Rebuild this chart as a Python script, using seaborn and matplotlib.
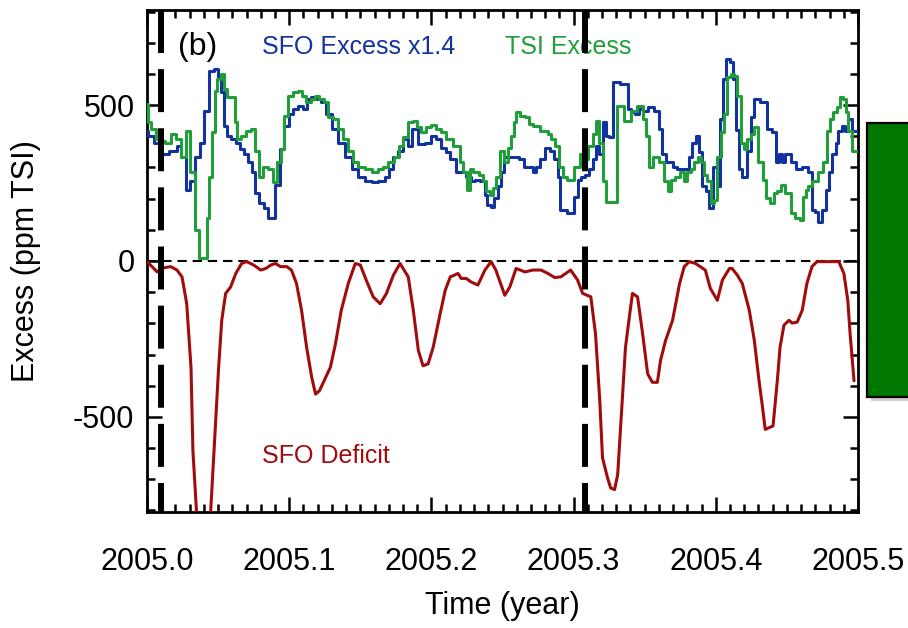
import numpy as np
import pandas as pd
import matplotlib
matplotlib.use("Agg")
import matplotlib.pyplot as plt
import seaborn as sns
from matplotlib.patches import Rectangle
from matplotlib.ticker import MultipleLocator, FixedLocator

# ---------------- data (time in days since 2005.0) ----------------
sfo_days = [0.0, 0.5, 3.1, 3.8, 7.4, 8.2, 9.5, 10.5, 11.5, 13.3,
            14.1, 15.4, 16.6, 17.7, 18.7, 19.2, 20.2, 21.0, 22.3, 23.6,
            24.3, 25.4, 26.4, 27.4, 28.2, 29.5, 30.5, 31.8, 33.8, 34.6,
            35.9, 36.9, 38.2, 39.4, 40.7, 41.5, 42.8, 44.0, 45.3, 46.6,
            48.4, 49.9, 51.7, 53.5, 55.1, 56.9, 58.6, 60.2, 62.0, 62.5,
            63.8, 65.0, 66.3, 67.6, 68.6, 70.4, 72.2, 73.5, 74.8, 76.1,
            77.3, 78.6, 79.9, 81.2, 82.5, 83.7, 85.0, 86.3, 87.1, 87.8,
            88.9, 89.6, 90.7, 91.4, 92.2, 94.5, 96.5, 97.3, 98.6, 99.6,
            100.4, 101.7, 103.0, 104.2, 105.0, 106.0, 106.3, 109.4, 110.1, 111.1,
            111.9, 113.2, 114.0, 115.0, 115.8, 116.5, 117.5, 118.3, 119.1, 120.1,
            122.9, 124.0, 124.7, 126.0, 126.8, 128.1, 129.1, 131.1, 131.9, 132.9,
            133.7, 134.5, 135.5, 136.8, 138.8, 139.6, 140.6, 141.4, 142.1, 143.2,
            143.9, 144.7, 146.2, 147.0, 147.5, 148.3, 149.3, 150.3, 150.8, 151.6,
            152.4, 153.4, 154.7, 155.5, 156.2, 158.8, 159.8, 161.1, 161.9, 162.6,
            163.6, 164.4, 166.2, 167.0, 169.5, 170.3, 171.3, 172.1, 172.6, 174.1,
            174.7, 175.4, 176.5, 177.2, 178.0, 179.0, 179.8, 180.5, 181.6, 182.6]
sfo_excess = [416, 400, 380, 342, 352, 368, 332, 229, 256, 332,
              380, 481, 610, 616, 590, 542, 432, 400, 390, 380,
              358, 342, 316, 284, 219, 187, 171, 139, 245, 358,
              432, 471, 487, 497, 487, 519, 526, 519, 510, 471,
              423, 380, 335, 294, 268, 255, 252, 255, 271, 294,
              332, 352, 390, 368, 423, 374, 380, 400, 390, 364,
              348, 326, 287, 284, 268, 255, 261, 255, 213, 181,
              174, 203, 239, 287, 335, 332, 326, 303, 300, 284,
              300, 326, 364, 352, 326, 271, 165, 155, 206, 261,
              271, 277, 294, 326, 368, 342, 445, 400, 397, 574,
              568, 487, 477, 471, 487, 481, 493, 481, 423, 342,
              319, 316, 303, 294, 294, 332, 380, 400, 348, 239,
              223, 171, 300, 239, 455, 584, 648, 639, 584, 420,
              294, 268, 352, 461, 519, 510, 423, 413, 316, 342,
              316, 342, 316, 294, 300, 284, 165, 158, 126, 165,
              229, 284, 342, 380, 416, 432, 416, 455, 416, 416]

tsi_days = [0.0, 0.5, 1.8, 2.6, 3.8, 5.6, 6.9, 8.2, 9.5, 10.5,
            11.5, 13.1, 13.8, 15.1, 15.6, 16.4, 17.2, 17.7, 18.4, 19.5,
            20.2, 21.0, 22.3, 22.8, 23.6, 24.8, 26.1, 27.4, 28.2, 29.2,
            30.5, 31.8, 33.0, 33.8, 34.8, 35.6, 36.9, 38.2, 39.4, 40.2,
            41.5, 42.8, 43.5, 44.8, 46.1, 47.1, 48.4, 49.7, 51.0, 52.2,
            53.5, 55.1, 56.9, 58.6, 59.9, 61.2, 62.7, 64.0, 65.3, 66.3,
            67.6, 68.9, 69.7, 70.9, 72.2, 73.5, 74.8, 76.1, 77.3, 79.9,
            80.7, 81.7, 82.5, 83.2, 84.5, 85.8, 86.8, 87.6, 88.4, 89.4,
            90.1, 91.2, 92.2, 93.2, 94.0, 94.5, 95.3, 96.5, 97.6, 98.6,
            99.6, 102.4, 103.5, 104.2, 105.5, 106.3, 107.3, 108.6, 110.6, 111.7,
            112.7, 114.0, 115.0, 115.8, 116.5, 117.5, 118.3, 120.2, 121.1, 124.0,
            124.7, 126.8, 127.8, 128.6, 129.3, 130.4, 132.4, 133.2, 134.2, 135.0,
            136.2, 137.5, 138.3, 139.3, 140.1, 140.9, 141.9, 142.6, 143.4, 144.5,
            145.2, 146.0, 147.0, 147.8, 148.5, 149.5, 150.3, 151.1, 152.1, 152.9,
            153.7, 154.7, 155.5, 156.2, 157.8, 158.5, 159.3, 160.6, 161.3, 162.4,
            163.1, 164.9, 165.7, 167.0, 168.3, 168.8, 169.5, 170.3, 171.3, 173.4,
            174.1, 175.2, 175.9, 176.7, 177.7, 178.5, 179.3, 179.8, 180.5, 181.6,
            182.6]
tsi_excess = [503, 445, 423, 390, 384, 380, 406, 390, 335, 416,
              284, 100, 10, 10, 139, 271, 413, 545, 584, 600,
              552, 526, 526, 445, 390, 400, 416, 423, 352, 271,
              300, 294, 252, 316, 358, 465, 529, 542, 545, 529,
              510, 519, 529, 519, 510, 461, 455, 423, 390, 352,
              319, 303, 294, 287, 294, 300, 316, 335, 368, 397,
              445, 448, 429, 413, 429, 436, 423, 413, 390, 368,
              319, 287, 229, 294, 287, 277, 255, 223, 213, 235,
              268, 352, 316, 364, 400, 445, 477, 465, 461, 439,
              432, 416, 406, 390, 368, 303, 271, 261, 303, 342,
              326, 368, 406, 448, 380, 255, 190, 190, 497, 448,
              481, 497, 455, 400, 303, 335, 316, 255, 223, 261,
              271, 284, 255, 284, 294, 319, 335, 316, 277, 255,
              187, 197, 335, 413, 471, 590, 600, 594, 529, 380,
              358, 390, 406, 429, 316, 261, 203, 187, 219, 223,
              245, 219, 155, 139, 132, 206, 229, 239, 255, 287,
              319, 416, 455, 477, 493, 526, 519, 477, 416, 352,
              352]

deficit_days = [0.0, 1.3, 2.6, 3.8, 6.1, 7.7, 9.0, 10.2, 11.3, 11.8,
                14.6, 17.4, 18.4, 19.2, 20.2, 21.5, 22.8, 24.3, 25.6, 27.4,
                29.2, 30.5, 31.8, 33.0, 34.3, 35.9, 37.1, 38.4, 39.7, 41.0,
                42.3, 43.3, 44.3, 45.3, 47.1, 48.4, 49.9, 51.7, 53.5, 54.8,
                56.3, 58.1, 59.9, 61.5, 63.3, 65.0, 67.1, 68.4, 69.7, 70.9,
                72.2, 73.5, 75.3, 76.6, 77.9, 79.9, 80.7, 82.0, 83.2, 85.0,
                86.8, 88.4, 89.6, 91.9, 93.2, 94.8, 97.1, 99.1, 101.2, 103.0,
                104.7, 106.3, 108.8, 110.6, 111.9, 114.0, 115.2, 116.3, 117.0, 118.3,
                119.1, 120.1, 120.9, 122.2, 122.9, 124.0, 124.7, 126.0, 127.3, 128.6,
                129.8, 131.1, 131.9, 133.2, 135.0, 136.8, 138.0, 139.3, 140.9, 143.4,
                144.7, 146.5, 147.8, 149.6, 150.3, 151.6, 152.9, 154.7, 156.0, 157.2,
                158.0, 158.8, 160.8, 161.9, 162.6, 163.6, 164.9, 165.7, 167.0, 168.3,
                169.5, 170.8, 172.1, 177.7, 179.0, 180.0, 180.6, 181.6]
sfo_deficit = [-2, -18, -35, -23, -18, -29, -51, -137, -341, -610,
               -1200, -567, -341, -190, -104, -83, -40, -8, -2, -13,
               -29, -24, -13, -8, -18, -18, -29, -72, -158, -277,
               -373, -427, -416, -389, -341, -266, -158, -72, -8, -13,
               -61, -115, -137, -104, -45, -8, -51, -158, -287, -336,
               -330, -277, -169, -94, -51, -40, -56, -56, -67, -77,
               -29, -2, -29, -110, -83, -24, -35, -29, -29, -40,
               -53, -51, -29, -61, -104, -115, -233, -448, -631, -696,
               -728, -733, -685, -420, -277, -169, -104, -115, -233, -362,
               -389, -389, -319, -255, -190, -72, -18, -2, -8, -29,
               -88, -126, -61, -24, -24, -45, -72, -158, -255, -384,
               -459, -540, -529, -384, -277, -206, -190, -199, -196, -158,
               -72, -18, -2, -2, -40, -126, -233, -384]

event_years = [2005.0098, 2005.308]
x_ticks = [2005.0, 2005.1, 2005.2, 2005.3, 2005.4, 2005.5]
x_tick_labels = ["2005.0", "2005.1", "2005.2", "2005.3", "2005.4", "2005.5"]
y_ticks = [-500, 0, 500]
y_tick_labels = ["-500", "0", "500"]

BLUE = "#12329f"
GREEN = "#1f9e39"
RED = "#a00c0c"
BOX_GREEN = "#007800"

# ---------------- style ----------------
sns.set_style("ticks")
plt.rcParams["font.family"] = ["Liberation Sans", "DejaVu Sans"]
plt.rcParams["axes.unicode_minus"] = False
plt.rcParams["text.color"] = "black"
plt.rcParams["axes.labelcolor"] = "black"

fig = plt.figure(figsize=(9.08, 6.28), dpi=100)
ax = fig.add_axes([147 / 908, 116 / 628, 711 / 908, 502 / 628])


def to_year(days):
    return 2005.0 + np.asarray(days, dtype=float) / 365.25


df_sfo = pd.DataFrame({"year": to_year(sfo_days), "value": sfo_excess})
df_tsi = pd.DataFrame({"year": to_year(tsi_days), "value": tsi_excess})
df_def = pd.DataFrame({"year": to_year(deficit_days), "value": sfo_deficit})

ax.axhline(0, color="black", lw=1.5, dashes=(4.5, 2.8), zorder=1)

sns.lineplot(data=df_sfo, x="year", y="value", ax=ax, color=BLUE, lw=2.2,
             drawstyle="steps-mid", estimator=None, zorder=3)
sns.lineplot(data=df_tsi, x="year", y="value", ax=ax, color=GREEN, lw=2.2,
             drawstyle="steps-mid", estimator=None, zorder=4)
sns.lineplot(data=df_def, x="year", y="value", ax=ax, color=RED, lw=2.2,
             estimator=None, zorder=3)

for yr in event_years:
    ax.axvline(yr, ymin=1, ymax=0, color="black", lw=4.3, dashes=(7.2, 2.7), zorder=6)

ax.set_xlim(2005.0, 2005.5)
ax.set_ylim(-805, 805)
ax.xaxis.set_major_locator(FixedLocator(x_ticks))
ax.set_xticklabels(x_tick_labels)
ax.xaxis.set_minor_locator(MultipleLocator(0.01))
ax.yaxis.set_major_locator(FixedLocator(y_ticks))
ax.set_yticklabels(y_tick_labels)
ax.yaxis.set_minor_locator(MultipleLocator(100))

ax.tick_params(which="both", direction="in", top=True, right=True, width=1.8,
               colors="black", labelcolor="black")
ax.tick_params(which="major", length=11, labelsize=22)
ax.tick_params(which="minor", length=6)
ax.tick_params(axis="x", which="major", pad=25)
ax.tick_params(axis="y", which="major", pad=9)
for sp in ax.spines.values():
    sp.set_linewidth(2.0)
    sp.set_color("black")

ax.set_xlabel("Time (year)", fontsize=22, color="black")
ax.set_ylabel("Excess (ppm TSI)", fontsize=22, color="black")
ax.xaxis.set_label_coords(0.5, -0.157)
ax.yaxis.set_label_coords(-0.149, 0.5)

ax.text(0.044, 0.926, "(b)", transform=ax.transAxes, fontsize=23,
        ha="left", va="center", color="black")
ax.text(0.162, 0.926, "SFO Excess x1.4", transform=ax.transAxes, fontsize=18,
        ha="left", va="center", color=BLUE)
ax.text(0.504, 0.926, "TSI Excess", transform=ax.transAxes, fontsize=18,
        ha="left", va="center", color=GREEN)
ax.text(0.162, 0.112, "SFO Deficit", transform=ax.transAxes, fontsize=18,
        ha="left", va="center", color=RED)

# green box on the right, partly outside the figure
shadow = Rectangle((871 / 908, 1 - 401 / 628), 0.1, 274 / 628,
                   transform=fig.transFigure, facecolor="#b0b0b0",
                   edgecolor="none", alpha=0.6, zorder=0)
box = Rectangle((867 / 908, 1 - 397 / 628), 0.1, 274 / 628,
                transform=fig.transFigure, facecolor=BOX_GREEN,
                edgecolor="black", lw=1.6, zorder=1)
fig.add_artist(shadow)
fig.add_artist(box)

fig.savefig("out.png", dpi=100)
